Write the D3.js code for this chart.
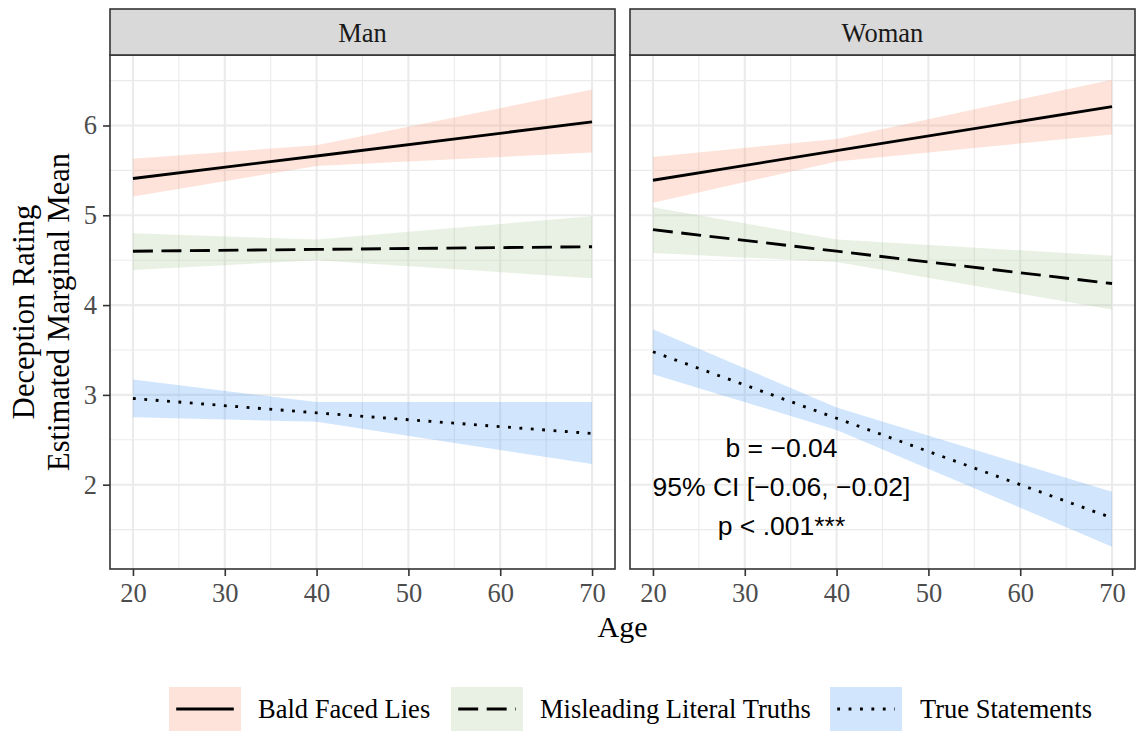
<!DOCTYPE html>
<html>
<head>
<meta charset="utf-8">
<script src="https://cdn.jsdelivr.net/npm/d3@7"></script>
<style>
  html, body { margin: 0; padding: 0; background: #fff; }
  svg { display: block; }
</style>
</head>
<body>
<svg id="chart" width="1139" height="732"></svg>
<script>
// Estimated marginal means of deception rating by age, split by speaker gender.
const genders = ["Man", "Woman"];
const statementTypes = ["Bald Faced Lies", "Misleading Literal Truths", "True Statements"];
const ages = [20, 40, 70];

// Man
const manBaldEst = [5.41, 5.66, 6.04];
const manBaldLo  = [5.21, 5.55, 5.70];
const manBaldHi  = [5.63, 5.78, 6.40];
const manMisEst  = [4.60, 4.62, 4.65];
const manMisLo   = [4.39, 4.50, 4.30];
const manMisHi   = [4.80, 4.73, 4.99];
const manTrueEst = [2.96, 2.80, 2.57];
const manTrueLo  = [2.75, 2.70, 2.23];
const manTrueHi  = [3.17, 2.92, 2.92];

// Woman
const womanBaldEst = [5.39, 5.72, 6.21];
const womanBaldLo  = [5.14, 5.60, 5.90];
const womanBaldHi  = [5.65, 5.85, 6.51];
const womanMisEst  = [4.84, 4.60, 4.24];
const womanMisLo   = [4.58, 4.48, 3.95];
const womanMisHi   = [5.09, 4.73, 4.55];
const womanTrueEst = [3.48, 2.74, 1.63];
const womanTrueLo  = [3.23, 2.61, 1.31];
const womanTrueHi  = [3.73, 2.86, 1.92];

const xTicks = [20, 30, 40, 50, 60, 70];
const xMinor = [25, 35, 45, 55, 65];
const yTicks = [2, 3, 4, 5, 6];
const yMinor = [1.5, 2.5, 3.5, 4.5, 5.5, 6.5];

const annotationLines = ["b = \u22120.04", "95% CI [\u22120.06, \u22120.02]", "p < .001***"];

// assemble series per panel
const seriesData = {
  "Man": [
    {type: statementTypes[0], est: manBaldEst, lo: manBaldLo, hi: manBaldHi},
    {type: statementTypes[1], est: manMisEst, lo: manMisLo, hi: manMisHi},
    {type: statementTypes[2], est: manTrueEst, lo: manTrueLo, hi: manTrueHi}
  ],
  "Woman": [
    {type: statementTypes[0], est: womanBaldEst, lo: womanBaldLo, hi: womanBaldHi},
    {type: statementTypes[1], est: womanMisEst, lo: womanMisLo, hi: womanMisHi},
    {type: statementTypes[2], est: womanTrueEst, lo: womanTrueLo, hi: womanTrueHi}
  ]
};

const lwd = 2.85;
const ribbonFill = d3.scaleOrdinal().domain(statementTypes).range(["#F78F6B", "#A3C78F", "#479BF7"]);
const dashFor = d3.scaleOrdinal().domain(statementTypes)
  .range(["none", `${7*lwd} ${3*lwd}`, `${lwd} ${3*lwd}`]);

const serif = "'Liberation Serif', 'Times New Roman', serif";
const sans = "'Liberation Sans', Arial, sans-serif";
const smallSize = 26.5;

const svg = d3.select("#chart");
svg.append("rect").attr("width", 1139).attr("height", 732).attr("fill", "#fff");

const panelW = 505, panelH = 514;
const panelLeft = {"Man": 110, "Woman": 630};
const panelTop = 55, stripTop = 9;

const x = d3.scaleLinear().domain([17.5, 72.5]).range([0, panelW]);
const y = d3.scaleLinear().domain([1.061, 6.785]).range([panelH, 0]);

genders.forEach(g => {
  const p = svg.append("g").attr("transform", `translate(${panelLeft[g]},${panelTop})`);

  // grid
  const grid = p.append("g");
  grid.selectAll(".vminor").data(xMinor).join("line")
    .attr("x1", d => x(d)).attr("x2", d => x(d)).attr("y1", 0).attr("y2", panelH)
    .attr("stroke", "#EBEBEB").attr("stroke-width", 1.1);
  grid.selectAll(".hminor").data(yMinor).join("line")
    .attr("y1", d => y(d)).attr("y2", d => y(d)).attr("x1", 0).attr("x2", panelW)
    .attr("stroke", "#EBEBEB").attr("stroke-width", 1.1);
  grid.selectAll(".vmajor").data(xTicks).join("line")
    .attr("x1", d => x(d)).attr("x2", d => x(d)).attr("y1", 0).attr("y2", panelH)
    .attr("stroke", "#EBEBEB").attr("stroke-width", 2.1);
  grid.selectAll(".hmajor").data(yTicks).join("line")
    .attr("y1", d => y(d)).attr("y2", d => y(d)).attr("x1", 0).attr("x2", panelW)
    .attr("stroke", "#EBEBEB").attr("stroke-width", 2.1);

  const series = seriesData[g];

  // confidence ribbons
  const area = d3.area()
    .x((d, i) => x(ages[i]))
    .y0(d => y(d[0]))
    .y1(d => y(d[1]));
  p.selectAll(".ribbon").data(series).join("path")
    .attr("d", s => area(s.lo.map((v, i) => [v, s.hi[i]])))
    .attr("fill", s => ribbonFill(s.type))
    .attr("fill-opacity", 0.25);

  // estimate lines
  const line = d3.line().x((d, i) => x(ages[i])).y(d => y(d));
  p.selectAll(".est").data(series).join("path")
    .attr("d", s => line(s.est))
    .attr("fill", "none")
    .attr("stroke", "#000")
    .attr("stroke-width", lwd)
    .attr("stroke-dasharray", s => dashFor(s.type));

  // annotation for the slope in the Woman panel
  if (g === "Woman") {
    p.append("text")
      .attr("x", x(34))
      .attr("y", y(1.974))
      .attr("font-family", sans).attr("font-size", 26.5).attr("fill", "#000")
      .attr("text-anchor", "middle")
      .selectAll("tspan").data(annotationLines).join("tspan")
      .attr("x", x(34))
      .attr("dy", (d, i) => i === 0 ? "-1.47em" : "1.47em")
      .attr("dominant-baseline", "central")
      .text(d => d);
  }

  // panel border
  p.append("rect").attr("width", panelW).attr("height", panelH)
    .attr("fill", "none").attr("stroke", "#333").attr("stroke-width", 1.6);

  // strip
  const strip = svg.append("g").attr("transform", `translate(${panelLeft[g]},${stripTop})`);
  strip.append("rect").attr("width", panelW).attr("height", panelTop - stripTop)
    .attr("fill", "#D9D9D9").attr("stroke", "#333").attr("stroke-width", 1.6);
  strip.append("text").attr("x", panelW / 2).attr("y", (panelTop - stripTop) / 2 + 1)
    .attr("text-anchor", "middle").attr("dominant-baseline", "central")
    .attr("font-family", serif).attr("font-size", smallSize).attr("fill", "#1A1A1A")
    .text(g);

  // x axis
  const xAxis = svg.append("g").attr("transform", `translate(${panelLeft[g]},${panelTop + panelH})`)
    .call(d3.axisBottom(x).tickValues(xTicks).tickFormat(d3.format("d"))
      .tickSize(7).tickPadding(7).tickSizeOuter(0));
  xAxis.select(".domain").remove();
  xAxis.selectAll(".tick line").attr("stroke", "#333").attr("stroke-width", 1.6);
  xAxis.selectAll(".tick text").attr("font-family", serif).attr("font-size", smallSize).attr("fill", "#4D4D4D");
});

// y axis on the left panel
const yAxis = svg.append("g").attr("transform", `translate(${panelLeft.Man},${panelTop})`)
  .call(d3.axisLeft(y).tickValues(yTicks).tickFormat(d3.format("d"))
    .tickSize(7).tickPadding(6).tickSizeOuter(0));
yAxis.select(".domain").remove();
yAxis.selectAll(".tick line").attr("stroke", "#333").attr("stroke-width", 1.6);
yAxis.selectAll(".tick text").attr("font-family", serif).attr("font-size", smallSize).attr("fill", "#4D4D4D");

// axis titles
svg.append("text").attr("x", 622.5).attr("y", 637)
  .attr("text-anchor", "middle").attr("font-family", serif).attr("font-size", 30).attr("fill", "#000")
  .text("Age");
const yTitle = svg.append("text")
  .attr("transform", `translate(0,${panelTop + panelH / 2}) rotate(-90)`)
  .attr("text-anchor", "middle").attr("font-family", serif).attr("font-size", 30.5).attr("fill", "#000");
yTitle.append("tspan").attr("x", 0).attr("y", 34).text("Deception Rating");
yTitle.append("tspan").attr("x", 0).attr("y", 68.5).text("Estimated Marginal Mean");

// legend
const legendItems = [
  {type: statementTypes[0], x: 169, textX: 258},
  {type: statementTypes[1], x: 451, textX: 540},
  {type: statementTypes[2], x: 830, textX: 920}
];
const keyW = 72, keyH = 44, keyTop = 687;
const legend = svg.append("g");
legendItems.forEach(item => {
  legend.append("rect").attr("x", item.x).attr("y", keyTop).attr("width", keyW).attr("height", keyH)
    .attr("fill", ribbonFill(item.type)).attr("fill-opacity", 0.25);
  legend.append("line")
    .attr("x1", item.x + keyW * 0.1).attr("x2", item.x + keyW * 0.9)
    .attr("y1", keyTop + keyH / 2).attr("y2", keyTop + keyH / 2)
    .attr("stroke", "#000").attr("stroke-width", lwd)
    .attr("stroke-dasharray", dashFor(item.type));
  legend.append("text").attr("x", item.textX).attr("y", keyTop + keyH / 2)
    .attr("dominant-baseline", "central")
    .attr("font-family", serif).attr("font-size", smallSize).attr("fill", "#000")
    .text(item.type);
});
</script>
</body>
</html>
